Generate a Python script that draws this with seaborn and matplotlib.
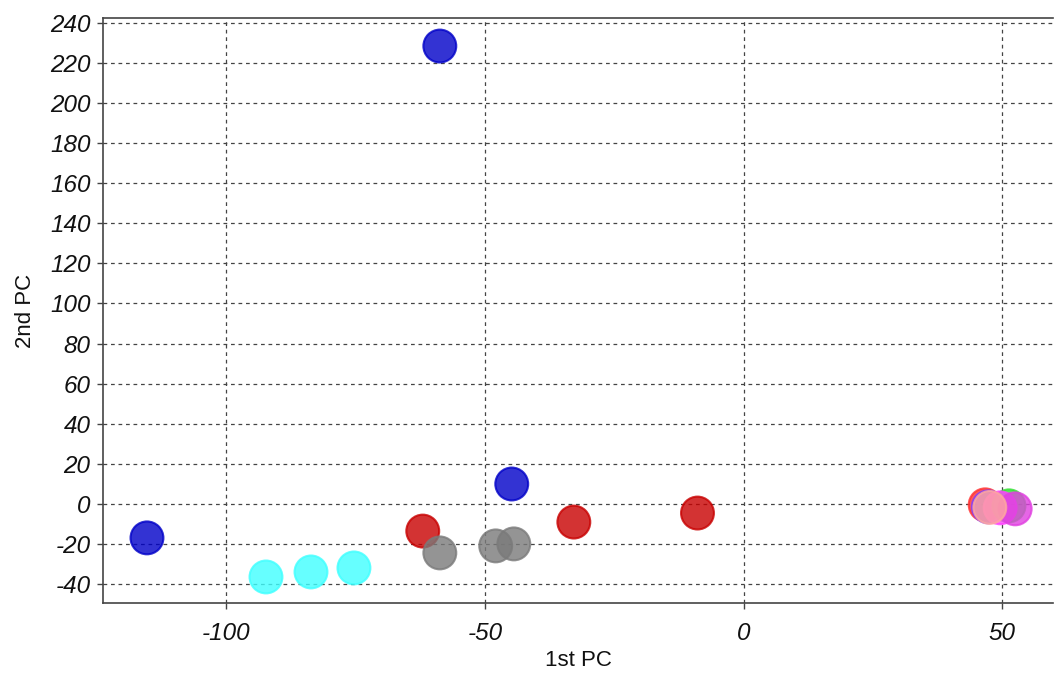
import matplotlib
matplotlib.use("Agg")
import matplotlib.pyplot as plt
import pandas as pd
import seaborn as sns

# PCA scores
pc1 = [-115.3, -58.7, -44.8,
       -92.3, -83.6, -75.3,
       -62.0, -32.8, -8.9,
       -58.7, -47.9, -44.4,
       46.7, 47.3, 51.3, 49.6, 52.5, 47.6]
pc2 = [-17.0, 228.5, 9.9,
       -36.5, -34.0, -32.0,
       -13.6, -9.1, -4.6,
       -24.5, -21.0, -20.0,
       -0.5, -1.5, -1.0, -2.0, -2.5, -1.8]
group = ["A", "A", "A",
         "B", "B", "B",
         "C", "C", "C",
         "D", "D", "D",
         "E", "F", "G", "H", "I", "J"]

palette = {
    "A": "#0000c8",
    "B": "#40ffff",
    "C": "#c80000",
    "D": "#7a7a7a",
    "E": "#ff3030",
    "F": "#7f3fff",
    "G": "#30e030",
    "H": "#ff40ff",
    "I": "#e040e0",
    "J": "#ffa8a0",
}

df = pd.DataFrame({"pc1": pc1, "pc2": pc2, "group": group})

sns.set_theme(style="white")
plt.rcParams["font.family"] = ["Liberation Sans", "DejaVu Sans"]
plt.rcParams["axes.unicode_minus"] = False

fig = plt.figure(figsize=(10.54, 6.74), dpi=100)
ax = fig.add_axes([103 / 1054, 1 - 603 / 674, 0.999 - 103 / 1054, (603 - 18) / 674])

sns.scatterplot(data=df, x="pc1", y="pc2", hue="group", palette=palette,
                s=560, alpha=0.8, linewidth=1.5, legend=False, ax=ax, zorder=3)
# darker edges like the reference
for coll in ax.collections:
    coll.set_edgecolor(coll.get_facecolor())

ax.set_xlim(-123.8, 59.8)
ax.set_ylim(-49.5, 242.5)
ax.set_xticks([-100, -50, 0, 50])
ax.set_yticks(range(-40, 241, 20))
ax.grid(True, linestyle=(0, (3, 3)), color="#444444", linewidth=0.9)
ax.set_axisbelow(True)
ax.tick_params(axis="both", direction="out", length=4, width=1, color="#444444",
               labelsize=17.5, labelcolor="#111111", left=True, bottom=True)
ax.tick_params(axis="x", pad=10)
ax.tick_params(axis="y", pad=5)
for lab in ax.get_xticklabels() + ax.get_yticklabels():
    lab.set_fontstyle("italic")
for side in ["left", "bottom", "top"]:
    ax.spines[side].set_color("#444444")
    ax.spines[side].set_linewidth(1.2)
ax.spines["right"].set_visible(False)

ax.set_xlabel("1st PC", fontsize=16, color="#111111", labelpad=3)
ax.set_ylabel("2nd PC", fontsize=16, color="#111111", labelpad=10)

fig.savefig("out.png", dpi=100)
